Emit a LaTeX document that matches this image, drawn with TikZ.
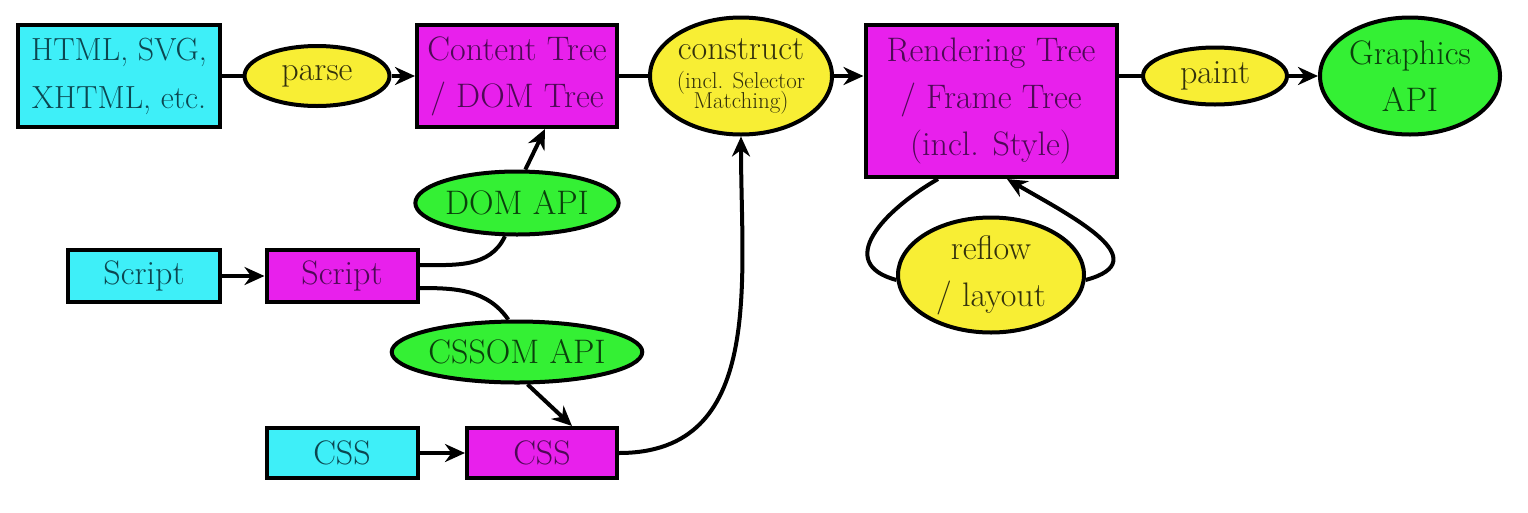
\documentclass[tikz,border=0pt]{standalone}
\usetikzlibrary{shapes.geometric,arrows.meta}
\definecolor{cyfill}{HTML}{3EEFF8}
\definecolor{mgfill}{HTML}{E820EC}
\definecolor{ylfill}{HTML}{F8EE34}
\definecolor{grfill}{HTML}{34F034}
\definecolor{cytext}{HTML}{0C4650}
\definecolor{mgtext}{HTML}{4E0A56}
\definecolor{yltext}{HTML}{33310C}
\definecolor{grtext}{HTML}{0A400C}
\newcommand\smalltxt{\fontsize{23}{19}\selectfont}
\tikzset{
  base/.style={draw=black, line width=4pt, inner sep=0pt, align=center,
    font=\fontsize{34}{47}\selectfont},
  srcbox/.style={base, rectangle, fill=cyfill, text=cytext},
  treebox/.style={base, rectangle, fill=mgfill, text=mgtext},
  procell/.style={base, ellipse, fill=ylfill, text=yltext},
  apiell/.style={base, ellipse, fill=grfill, text=grtext},
  conn/.style={line width=4pt, draw=black},
  arr/.style={conn, -{Stealth[length=20pt,width=18pt]}},
}
\begin{document}
\begin{tikzpicture}[x=1pt,y=-1pt]
\useasboundingbox (0,0) rectangle (1528,512);
% top row
\node[srcbox, minimum width=202pt, minimum height=102pt, font=\fontsize{32}{48}\selectfont] (html) at (119,76) {HTML, SVG,\\XHTML, etc.};
\node[procell, minimum width=145pt, minimum height=60pt] (parse) at (317,76) {parse};
\node[treebox, minimum width=200pt, minimum height=102pt] (content) at (517,76) {Content Tree\\/ DOM Tree};
\node[procell, minimum width=182pt, minimum height=117pt] (construct) at (741,76)
  {construct\\[-18pt]\smalltxt (incl. Selector\\[-27pt]\smalltxt Matching)};
\node[treebox, minimum width=251pt, minimum height=152pt] (rend) at (991,101) {Rendering Tree\\/ Frame Tree\\(incl. Style)};
\node[procell, minimum width=144pt, minimum height=57pt] (paint) at (1215,76) {paint};
\node[apiell, minimum width=180pt, minimum height=117pt] (gapi) at (1410,76) {Graphics\\API};
% lower part
\node[apiell, minimum width=185pt, minimum height=63pt] (domapi) at (517,203) {DOM API};
\node[srcbox, minimum width=152pt, minimum height=52pt] (scriptc) at (144,276) {Script};
\node[treebox, minimum width=151pt, minimum height=52pt] (scriptm) at (342,276) {Script};
\node[apiell, minimum width=218pt, minimum height=61pt] (cssom) at (517,352) {CSSOM API};
\node[srcbox, minimum width=151pt, minimum height=50pt] (cssc) at (342,453) {CSS};
\node[treebox, minimum width=150pt, minimum height=50pt] (cssm) at (542,453) {CSS};
\node[procell, minimum width=186pt, minimum height=115pt] (reflow) at (991,275) {reflow\\/ layout};
% connectors
\draw[conn] (html) -- (parse);
\draw[arr] (parse) -- (content);
\draw[conn] (content) -- (construct);
\draw[arr] (construct) -- (construct -| rend.west);
\draw[conn] (rend.east |- paint) -- (paint);
\draw[arr] (paint) -- (gapi);
\draw[arr] (scriptc) -- (scriptm);
\draw[arr] (cssc) -- (cssm);
\draw[conn] ([yshift=11pt]scriptm.east) to[out=0,in=-115] (domapi.250);
\draw[arr] (domapi.76) -- ([xshift=28pt]content.south);
\draw[conn] ([yshift=-12pt]scriptm.east) to[out=0,in=125] (cssom.105);
\draw[arr] (cssom.-72) -- ([xshift=30pt]cssm.north);
\draw[arr] (cssm.east) to[out=0,in=-90,looseness=1.1] (construct.south);
\draw[conn] ([xshift=-53pt]rend.south) to[out=-150,in=165,looseness=1.5] (reflow.183);
\draw[arr] (reflow.-3) to[out=15,in=-30,looseness=1.5] ([xshift=16pt]rend.south);
\end{tikzpicture}
\end{document}
